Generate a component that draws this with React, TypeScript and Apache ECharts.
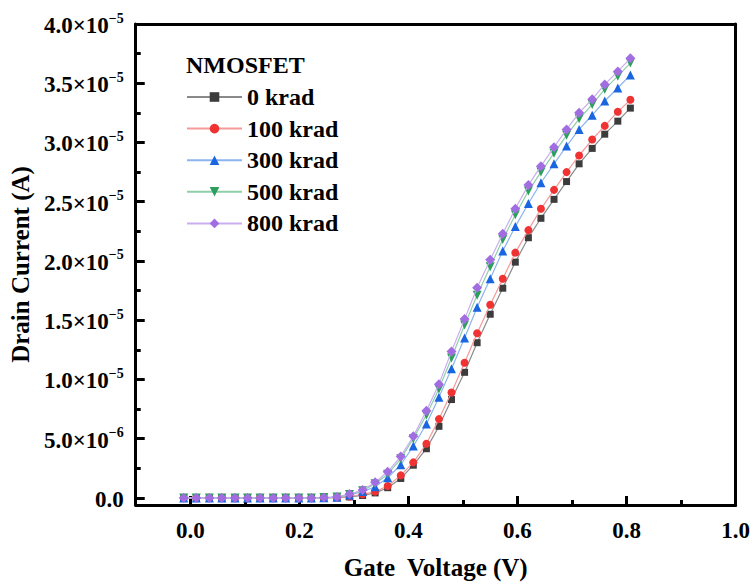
import React, { useEffect, useRef } from "react";
import * as echarts from "echarts";

// Gate voltage (V)
const gateVoltage = [
  -0.012, 0.011, 0.035, 0.058, 0.082, 0.105, 0.128, 0.152, 0.175, 0.199, 0.222, 0.245,
  0.269, 0.292, 0.316, 0.339, 0.362, 0.386, 0.409, 0.433, 0.456, 0.479, 0.503, 0.526,
  0.55, 0.573, 0.596, 0.62, 0.643, 0.667, 0.69, 0.713, 0.737, 0.76, 0.784, 0.807,
];

// Drain current in units of 1e-6 A
const krad0 = [
  0, 0, 0, 0, 0, 0, 0, 0, 0, 0, 0, 0, 0.01, 0.08, 0.2, 0.42, 0.86, 1.64, 2.76, 4.15,
  6.04, 8.3, 10.6, 13.1, 15.5, 17.7, 19.9, 21.96, 23.6, 25.2, 26.7, 28.2, 29.5, 30.7, 31.8, 32.9,
];
const krad100 = [
  0, 0, 0, 0, 0, 0, 0, 0, 0, 0, 0, 0.01, 0.02, 0.12, 0.3, 0.53, 1.0, 1.9, 3.0, 4.57,
  6.65, 8.9, 11.4, 13.9, 16.3, 18.5, 20.7, 22.6, 24.4, 26.0, 27.5, 28.9, 30.25, 31.4, 32.6, 33.6,
];
const krad300 = [
  0, 0, 0, 0, 0, 0, 0, 0, 0, 0, 0, 0.02, 0.05, 0.25, 0.53, 0.94, 1.7, 2.8, 4.37, 6.24,
  8.5, 10.9, 13.5, 16.1, 18.5, 20.85, 22.9, 24.85, 26.6, 28.2, 29.7, 31.1, 32.3, 33.5, 34.6, 35.7,
];
const krad500 = [
  0, 0, 0, 0, 0, 0, 0, 0, 0, 0, 0, 0.03, 0.07, 0.28, 0.6, 1.2, 2.0, 3.3, 5.0, 7.0,
  9.2, 11.8, 14.6, 17.1, 19.5, 21.8, 23.9, 25.9, 27.5, 29.1, 30.6, 32.0, 33.2, 34.5, 35.6, 36.7,
];
const krad800 = [
  0, 0, 0, 0, 0, 0, 0, 0, 0, 0, 0, 0.03, 0.08, 0.33, 0.67, 1.31, 2.2, 3.5, 5.2, 7.35,
  9.6, 12.36, 15.09, 17.73, 20.1, 22.3, 24.4, 26.4, 28.0, 29.6, 31.1, 32.5, 33.65, 34.9, 36.0, 37.1,
];

const seriesNames = ["0 krad", "100 krad", "300 krad", "500 krad", "800 krad"];
const seriesData = [krad0, krad100, krad300, krad500, krad800];
const seriesColors = ["#3c3c3c", "#f03232", "#1a66e0", "#2e9e5e", "#a26de0"];
const lineColors = ["#8a8a8a", "#f59a9a", "#8cb4ee", "#8fcfa8", "#c9aef0"];
const symbols = ["rect", "circle", "triangle", "triangle", "diamond"];
const symbolSizes = [7, 8, 9, 9, 10];
const symbolRotates = [0, 0, 0, 180, 0];

const xMajorTicks = [0, 0.2, 0.4, 0.6, 0.8, 1.0];
const xMinorTicks = [0.1, 0.3, 0.5, 0.7, 0.9];
const yMajorTicks = [0, 5, 10, 15, 20, 25, 30, 35, 40];
const yMinorTicks = [2.5, 7.5, 12.5, 17.5, 22.5, 27.5, 32.5, 37.5];

const FONT = "'Liberation Serif', 'Times New Roman', serif";

function yLabel(v: number): string {
  if (Math.abs(v) < 1e-9) return "{a|0.0}";
  if (v < 10) return `{a|${v.toFixed(1)}×10}{s|−6}`;
  return `{a|${(v / 10).toFixed(1)}×10}{s|−5}`;
}

export default function App() {
  const ref = useRef<HTMLDivElement>(null);
  useEffect(() => {
    if (!ref.current) return;
    const chart = echarts.init(ref.current, undefined, { renderer: "svg" });
    const axisLine = { show: true, onZero: false, lineStyle: { color: "#000", width: 3 } };
    const noLine = { show: false, onZero: false };
    const xMin = -0.1;
    const xMax = 1.0;
    const yMin = -0.6;
    const yMax = 40;
    chart.setOption({
      animation: false,
      backgroundColor: "#fff",
      title: {
        text: "NMOSFET",
        left: 186,
        top: 53,
        padding: 0,
        textStyle: { fontFamily: FONT, fontWeight: "bold", fontSize: 24, color: "#000" },
      },
      legend: {
        orient: "vertical",
        left: 186,
        top: 85,
        padding: 0,
        itemWidth: 55,
        itemHeight: 12,
        itemGap: 7.6,
        data: seriesNames,
        textStyle: { fontFamily: FONT, fontWeight: "bold", fontSize: 24, color: "#000" },
      },
      grid: { left: 135, right: 17, top: 24, bottom: 75 },
      xAxis: [
        {
          type: "value",
          position: "bottom",
          min: xMin,
          max: xMax,
          axisLine,
          splitLine: { show: false },
          axisTick: { show: true, inside: true, length: 9, customValues: xMajorTicks, lineStyle: { color: "#000", width: 3 } },
          axisLabel: {
            customValues: xMajorTicks,
            formatter: (v: number) => v.toFixed(1),
            fontFamily: FONT,
            fontWeight: "bold",
            fontSize: 23,
            color: "#000",
            margin: 14,
          },
          name: "Gate  Voltage (V)",
          nameLocation: "middle",
          nameGap: 50,
          nameTextStyle: { fontFamily: FONT, fontWeight: "bold", fontSize: 25, color: "#000" },
        },
        {
          type: "value",
          position: "bottom",
          min: xMin,
          max: xMax,
          axisLine: noLine,
          splitLine: { show: false },
          axisTick: { show: true, inside: true, length: 5, customValues: xMinorTicks, lineStyle: { color: "#000", width: 3 } },
          axisLabel: { show: false },
        },
        {
          type: "value",
          position: "top",
          min: xMin,
          max: xMax,
          axisLine,
          splitLine: { show: false },
          axisTick: { show: false },
          axisLabel: { show: false },
        },
      ],
      yAxis: [
        {
          type: "value",
          position: "left",
          min: yMin,
          max: yMax,
          axisLine,
          splitLine: { show: false },
          axisTick: { show: true, inside: true, length: 9, customValues: yMajorTicks, lineStyle: { color: "#000", width: 3 } },
          axisLabel: {
            customValues: yMajorTicks,
            formatter: yLabel,
            margin: 12,
            color: "#000",
            rich: {
              a: { fontFamily: FONT, fontWeight: "bold", fontSize: 23, color: "#000", lineHeight: 26, verticalAlign: "bottom" },
              s: { fontFamily: FONT, fontWeight: "bold", fontSize: 14, color: "#000", lineHeight: 14, verticalAlign: "top" },
            },
          },
          name: "Drain Current (A)",
          nameLocation: "middle",
          nameGap: 93,
          nameRotate: 90,
          nameTextStyle: { fontFamily: FONT, fontWeight: "bold", fontSize: 25, color: "#000" },
        },
        {
          type: "value",
          position: "left",
          min: yMin,
          max: yMax,
          axisLine: noLine,
          splitLine: { show: false },
          axisTick: { show: true, inside: true, length: 5, customValues: yMinorTicks, lineStyle: { color: "#000", width: 3 } },
          axisLabel: { show: false },
        },
        {
          type: "value",
          position: "right",
          min: yMin,
          max: yMax,
          axisLine,
          splitLine: { show: false },
          axisTick: { show: false },
          axisLabel: { show: false },
        },
      ],
      series: seriesNames.map((name, k) => ({
        name,
        type: "line",
        xAxisIndex: 0,
        yAxisIndex: 0,
        data: gateVoltage.map((x, i) => [x, seriesData[k][i]]),
        symbol: symbols[k],
        symbolSize: symbolSizes[k],
        symbolRotate: symbolRotates[k],
        itemStyle: { color: seriesColors[k] },
        lineStyle: { color: lineColors[k], width: 1.2 },
        z: 2 + k,
      })),
    });
    return () => chart.dispose();
  }, []);
  return <div ref={ref} style={{ position: "fixed", left: 0, top: 0, width: 753, height: 585 }} />;
}
